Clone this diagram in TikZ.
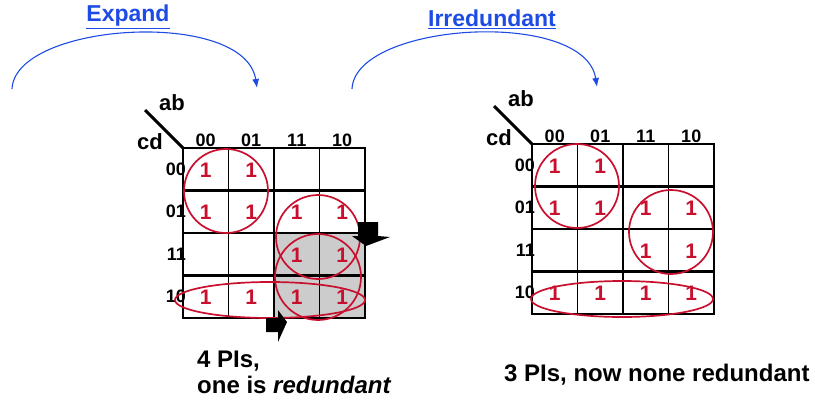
\documentclass[tikz,border=0pt]{standalone}
\usepackage{fontspec}
\setmainfont{Liberation Sans}
\usetikzlibrary{arrows.meta}

\definecolor{piRed}{RGB}{200,16,46}
\definecolor{stepBlue}{RGB}{30,75,230}
\definecolor{cellGray}{RGB}{204,204,204}

\tikzset{
	gridline/.style={line width=1.8pt},
	rowline/.style={line width=2.8pt},
	pigroup/.style={draw=piRed, line width=1.7pt},
	onecell/.style={text=piRed, font=\fontsize{21}{21}\selectfont\bfseries, inner sep=0pt},
	axislabel/.style={font=\fontsize{18}{18}\selectfont\bfseries, inner sep=0pt},
	varlabel/.style={font=\fontsize{22}{22}\selectfont\bfseries, inner sep=0pt},
	steplabel/.style={text=stepBlue, font=\fontsize{23}{23}\selectfont\bfseries, inner sep=0pt},
	steparc/.style={draw=stepBlue, line width=1.1pt, -{Latex[length=9pt,width=7pt]}},
	note/.style={font=\fontsize{24}{26}\selectfont\bfseries, inner sep=0pt, align=left},
}

% K-map frame: labels, grid and the ones (cells 45.5 x 42.5)
\newcommand{\kmapgrid}{%
	\foreach \lbl [count=\i] in {00,01,11,10} {
		\node[axislabel, anchor=south] (col\i) at ({45.5*\i-22.75},-1.5) {\lbl};
		\node[axislabel, anchor=east] (row\i) at (3,{42.5*\i-21.25}) {\lbl};
	}
	\draw[line width=3pt] (-38,-38) -- (0,0);
	\node[varlabel] (ab) at (-11,-45) {ab};
	\node[varlabel] (cd) at (-33,-6) {cd};
	\draw[gridline] (0,0) rectangle (182,170);
	\foreach \cx in {45.5,91,136.5}
		\draw[gridline] (\cx,0) -- (\cx,170);
	\foreach \cy in {42.5,85,127.5}
		\draw[rowline] (0,\cy) -- (182,\cy);
	\foreach \c/\r in {1/1,2/1,1/2,2/2,3/2,4/2,3/3,4/3,1/4,2/4,3/4,4/4}
		\node[onecell] (one\c\r) at ({45.5*\c-22.75},{42.5*\r-20.5}) {1};
}

\begin{document}
\begin{tikzpicture}[x=1pt,y=-1pt]
	\useasboundingbox (0,0) rectangle (815,400);
	
	% steps
	\node[steplabel] (expand) at (128,17) {\underline{Expand}};
	\node[steplabel] (irred) at (492,19) {\underline{Irredundant}};
	\coordinate (expFrom) at (12,89);
	\coordinate (expTo) at (257,88);
	\coordinate (irrFrom) at (352,89);
	\coordinate (irrTo) at (597,87);
	\draw[steparc] (expFrom) .. controls (15,22) and (245,8) .. (expTo);
	\draw[steparc] (irrFrom) .. controls (355,22) and (585,8) .. (irrTo);
	
	% after expand
	\begin{scope}[shift={(183,148)}, name prefix=L-]
		\fill[cellGray] (91,85) rectangle (182,170);
		\kmapgrid
		\draw[pigroup] (43,43) circle (42);
		\draw[pigroup] (135,89) circle (42);
		\draw[pigroup] (135,129) circle (43);
		\draw[pigroup] (87,152) ellipse (95 and 18);
	\end{scope}
	\fill (358,222) -- (378,222) -- (378,236) -- (390,237) -- (366,246) -- (352,236) -- (358,236) -- cycle;
	\fill (266,318) -- (278,318) -- (278,310) -- (287,322) -- (278,342) -- (278,332) -- (266,332) -- cycle;
	\node[note, anchor=base west] (leftnote) at (197,393) {4 PIs,\\one is \textit{redundant}};
	
	% after irredundant
	\begin{scope}[shift={(532,144)}, name prefix=R-]
		\kmapgrid
		\draw[pigroup] (45,42) circle (42);
		\draw[pigroup] (139,88) circle (42);
		\draw[pigroup] (90,155) ellipse (91 and 18);
	\end{scope}
	\node[note, anchor=base west] (rightnote) at (504,381) {3 PIs, now none redundant};
\end{tikzpicture}
\end{document}
